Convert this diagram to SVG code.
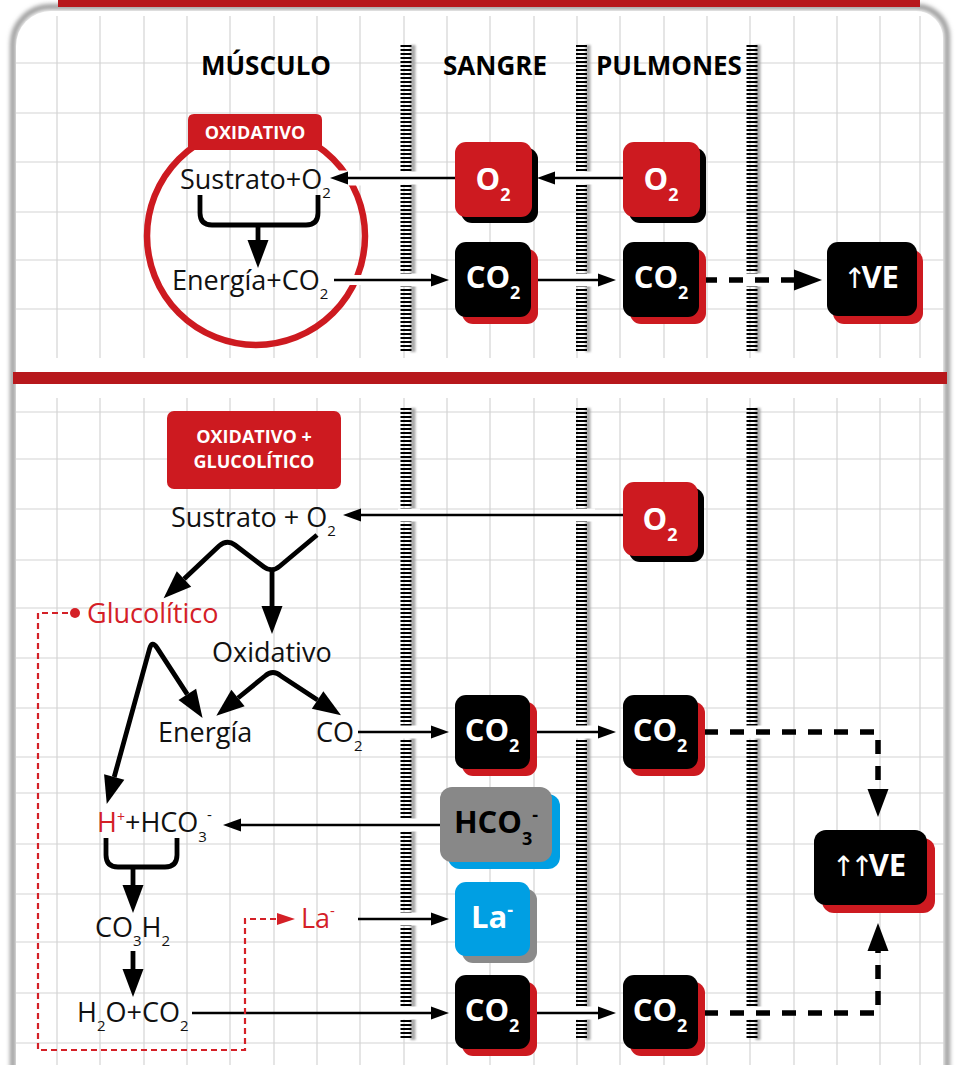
<svg xmlns="http://www.w3.org/2000/svg" width="956" height="1065" viewBox="0 0 956 1065">
<defs>
<style>
.txt{font-family:'Open Sans','Noto Sans','DejaVu Sans',sans-serif;font-size:27px;fill:#111}
.red{fill:#d42027}
.hd{font-family:'Open Sans','Noto Sans',sans-serif;font-weight:700;font-size:26px;fill:#000;text-anchor:middle}
.bt{font-family:'Open Sans','Noto Sans','DejaVu Sans',sans-serif;font-weight:700;font-size:31px;fill:#fff;text-anchor:middle}
.arr{font-family:'DejaVu Sans',sans-serif;font-weight:400;font-size:28px;letter-spacing:-5px}
.lb{font-family:'Open Sans','Noto Sans',sans-serif;font-weight:700;font-size:18px;fill:#fff;text-anchor:middle}
.sub{font-size:15px}
.bsub{font-size:18px}
.thin{fill:none;stroke:#000;stroke-width:2.6}
.thick{fill:none;stroke:#000;stroke-width:4.8;stroke-linejoin:round}
.dash{fill:none;stroke:#000;stroke-width:5.5;stroke-dasharray:14 12}
.grid{fill:none;stroke:#d4d4d4;stroke-width:1.2}
.tick{stroke:#000;stroke-width:11;stroke-dasharray:2 2}
.tshadow{stroke:#a8a8a8;stroke-width:5}
.gap{fill:#fff}
.rbox{fill:#cd1a20}
.kbox{fill:#000}
</style>
<filter id="fb2" filterUnits="userSpaceOnUse" x="0" y="0" width="956" height="1065"><feGaussianBlur stdDeviation="2"/></filter>
<filter id="fb1" filterUnits="userSpaceOnUse" x="0" y="0" width="956" height="1065"><feGaussianBlur stdDeviation="1.3"/></filter>
<marker id="a1" markerUnits="userSpaceOnUse" markerWidth="20" markerHeight="14" refX="0" refY="6.5" orient="auto" overflow="visible"><path d="M0,0 L18,6.5 L0,13 Z" fill="#000"/></marker>
<marker id="a2" markerUnits="userSpaceOnUse" markerWidth="30" markerHeight="22" refX="0" refY="10.5" orient="auto-start-reverse" overflow="visible"><path d="M0,0 L28,10.5 L0,21 Z" fill="#000"/></marker>
<marker id="a3" markerUnits="userSpaceOnUse" markerWidth="20" markerHeight="13" refX="0" refY="6" orient="auto" overflow="visible"><path d="M0,0 L18,6 L0,12 Z" fill="#d42027"/></marker>
</defs>

<rect x="0" y="0" width="956" height="1065" fill="#fff"/>
<g id="card">
<path d="M13,1075 V44 A37,37 0 0 1 50,7 H917 A30,30 0 0 1 947,37 V1075 Z" fill="#fff" stroke="#9c9c9c" stroke-width="6" filter="url(#fb2)"/>
<path d="M16,1075 V46 A35,35 0 0 1 51,11 H916 A27,27 0 0 1 943,38 V1075 Z" fill="#fff"/>
</g>

<g id="grid" class="grid">
<path d="M57 16V358M100 16V358M144 16V358M187 16V358M230 16V358M274 16V358M317 16V358M360 16V358M404 16V358M447 16V358M490 16V358M534 16V358M577 16V358M620 16V358M664 16V358M707 16V358M750 16V358M794 16V358M837 16V358M880 16V358M920 16V358"/>
<path d="M16 63H944M16 113H944M16 162H944M16 212H944M16 260H944M16 309H944"/>
<path d="M57 398V1065M100 398V1065M144 398V1065M187 398V1065M230 398V1065M274 398V1065M317 398V1065M360 398V1065M404 398V1065M447 398V1065M490 398V1065M534 398V1065M577 398V1065M620 398V1065M664 398V1065M707 398V1065M750 398V1065M794 398V1065M837 398V1065M880 398V1065M920 398V1065"/>
<path d="M16 412H944M16 459H944M16 509H944M16 560H944M16 608H944M16 658H944M16 708H944M16 757H944M16 793H944M16 844H944M16 894H944M16 942H944M16 993H944M16 1043H944"/>
</g>

<rect id="top-bar" x="58" y="0" width="862" height="7" fill="#b7181c"/>
<rect id="divider" x="13" y="372" width="934" height="12" fill="#b7181c"/>

<g id="membranes">
<g filter="url(#fb1)" class="tshadow">
<line x1="413" y1="45" x2="413" y2="352"/><line x1="588" y1="45" x2="588" y2="352"/><line x1="758" y1="45" x2="758" y2="352"/>
<line x1="413" y1="408" x2="413" y2="1040"/><line x1="588" y1="408" x2="588" y2="1040"/><line x1="758" y1="408" x2="758" y2="1040"/>
</g>
<g class="tick">
<line x1="406" y1="45" x2="406" y2="352"/><line x1="581.5" y1="45" x2="581.5" y2="352"/><line x1="752" y1="45" x2="752" y2="352"/>
<line x1="406" y1="408" x2="406" y2="1040"/><line x1="581.5" y1="408" x2="581.5" y2="1040"/><line x1="752" y1="408" x2="752" y2="1040"/>
</g>
<g class="gap">
<rect x="398" y="171.5" width="22" height="13"/><rect x="573" y="171.5" width="22" height="13"/>
<rect x="398" y="273.5" width="22" height="13"/><rect x="573" y="273.5" width="22" height="13"/><rect x="744" y="273.5" width="22" height="13"/>
<rect x="398" y="508.5" width="22" height="13"/><rect x="573" y="508.5" width="22" height="13"/>
<rect x="398" y="725.5" width="22" height="13"/><rect x="573" y="725.5" width="22" height="13"/><rect x="744" y="725.5" width="22" height="13"/>
<rect x="398" y="818.5" width="22" height="13"/>
<rect x="398" y="912.5" width="22" height="13"/>
<rect x="398" y="1006.5" width="22" height="13"/><rect x="573" y="1006.5" width="22" height="13"/><rect x="744" y="1006.5" width="22" height="13"/>
</g>
</g>

<g id="oxidativo-circle">
<circle cx="256" cy="236" r="109" fill="none" stroke="#cd1a20" stroke-width="6.5"/>
<path d="M336,178 H364" stroke="#fff" stroke-width="15"/>
<path d="M342,280 H372" stroke="#fff" stroke-width="10"/>
<path d="M188,150 V120 Q188,114 194,114 H316 Q322,114 322,120 V150 Z" fill="#cd1a20"/>
<text class="lb" x="255" y="138.5">OXIDATIVO</text>
</g>

<g id="connectors">
<path class="thin" d="M455,178 H348" marker-end="url(#a1)"/>
<path class="thin" d="M623,178 H555" marker-end="url(#a1)"/>
<path class="thin" d="M334,280 H431" marker-end="url(#a1)"/>
<path class="thin" d="M537,280 H598" marker-end="url(#a1)"/>
<path class="dash" d="M703,280 H794" marker-end="url(#a2)"/>
<path class="thick" d="M200,195 V213 Q200,225 212,225 H306 Q318,225 318,213 V195"/>
<path class="thick" d="M258,224 V240" marker-end="url(#a2)"/>

<path class="thin" d="M623,515 H361" marker-end="url(#a1)"/>
<path class="thick" d="M317,535 L280,566 Q272,573 264,567 L235,545 Q227,539 219,546 L184,579" marker-end="url(#a2)"/>
<path class="thick" d="M272,570 V606" marker-end="url(#a2)"/>
<path class="thick" d="M238,698 L265,676 Q273,669 281,676 L317.6,700" marker-start="url(#a2)" marker-end="url(#a2)"/>
<path class="thick" d="M114.2,777 L149.6,648.7 Q152,640 156.9,647.6 L187.3,694.4" marker-start="url(#a2)" marker-end="url(#a2)"/>
<path class="thin" d="M358,732 H431" marker-end="url(#a1)"/>
<path class="thin" d="M537,732 H598" marker-end="url(#a1)"/>
<path class="dash" d="M704,732 H878 V789" marker-end="url(#a2)"/>
<path class="thin" d="M440,825 H241" marker-end="url(#a1)"/>
<path class="thick" d="M106,838 V855 Q106,867 118,867 H165 Q177,867 177,855 V838"/>
<path class="thick" d="M133,866 V885" marker-end="url(#a2)"/>
<path class="thick" d="M133,951 V969" marker-end="url(#a2)"/>
<path class="thin" d="M358,919 H431" marker-end="url(#a1)"/>
<path class="thin" d="M192,1013 H431" marker-end="url(#a1)"/>
<path class="thin" d="M537,1013 H598" marker-end="url(#a1)"/>
<path class="dash" d="M704,1013 H878 V951" marker-end="url(#a2)"/>
<path d="M68,613 H38 V1050 H245 V919 H277" fill="none" stroke="#d42027" stroke-width="2.2" stroke-dasharray="6 4" marker-end="url(#a3)"/>
<circle cx="75" cy="613" r="5" fill="#d42027"/>
</g>

<g id="headers">
<text class="hd" x="266" y="75">MÚSCULO</text>
<text class="hd" x="495" y="75">SANGRE</text>
<text class="hd" x="669" y="75">PULMONES</text>
</g>

<g id="sustrato-top"><text class="txt" x="180" y="189">Sustrato+O<tspan class="sub" dy="9">2</tspan></text></g>
<g id="energia-top"><text class="txt" x="172" y="290">Energía+CO<tspan class="sub" dy="9">2</tspan></text></g>

<g id="o2-sangre-top">
<rect x="461" y="148" width="77" height="75" rx="11" class="kbox"/>
<rect x="455" y="142" width="77" height="75" rx="11" class="rbox"/>
<text class="bt" x="493" y="190">O<tspan class="bsub" dy="11">2</tspan></text>
</g>
<g id="o2-pulmones-top">
<rect x="629" y="148" width="77" height="75" rx="11" class="kbox"/>
<rect x="623" y="142" width="77" height="75" rx="11" class="rbox"/>
<text class="bt" x="661" y="190">O<tspan class="bsub" dy="11">2</tspan></text>
</g>
<g id="co2-sangre-top">
<rect x="462" y="249" width="76" height="75" rx="11" class="rbox"/>
<rect x="455" y="242" width="76" height="75" rx="11" class="kbox"/>
<text class="bt" x="493" y="288">CO<tspan class="bsub" dy="11">2</tspan></text>
</g>
<g id="co2-pulmones-top">
<rect x="630" y="249" width="76" height="75" rx="11" class="rbox"/>
<rect x="623" y="242" width="76" height="75" rx="11" class="kbox"/>
<text class="bt" x="661" y="288">CO<tspan class="bsub" dy="11">2</tspan></text>
</g>
<g id="ve-top">
<rect x="833" y="250" width="90" height="74" rx="11" class="rbox"/>
<rect x="827" y="242" width="90" height="74" rx="11" class="kbox"/>
<text class="bt" x="871" y="288"><tspan class="arr">↑</tspan>VE</text>
</g>

<g id="label-bottom">
<rect x="167" y="411" width="174" height="78" rx="7" class="rbox"/>
<text class="lb" x="254" y="443" font-size="19">OXIDATIVO +</text>
<text class="lb" x="254" y="468" font-size="19">GLUCOLÍTICO</text>
</g>

<g id="sustrato-bottom"><text class="txt" x="171" y="527">Sustrato + O<tspan class="sub" dy="9">2</tspan></text></g>
<g id="glucolitico"><text class="txt red" x="87" y="623" font-size="28">Glucolítico</text></g>
<g id="oxidativo"><text class="txt" x="212" y="662">Oxidativo</text></g>
<g id="energia"><text class="txt" x="158" y="742">Energía</text></g>
<g id="co2-musculo"><text class="txt" x="316" y="742">CO<tspan class="sub" dy="9">2</tspan></text></g>
<g id="h-hco3"><text class="txt" x="97" y="832"><tspan fill="#d42027">H</tspan><tspan fill="#d42027" font-size="14" dy="-10">+</tspan><tspan dy="10">+HCO</tspan><tspan class="sub" dy="10">3</tspan><tspan class="sub" dy="-22">-</tspan></text></g>
<g id="co3h2"><text class="txt" x="95" y="937">CO<tspan class="sub" dy="9">3</tspan><tspan dy="-9">H</tspan><tspan class="sub" dy="9">2</tspan></text></g>
<g id="h2o-co2"><text class="txt" x="77" y="1022">H<tspan class="sub" dy="9">2</tspan><tspan dy="-9">O+CO</tspan><tspan class="sub" dy="9">2</tspan></text></g>
<g id="la-musculo"><text class="txt red" x="301" y="928">La<tspan class="sub" dy="-12">-</tspan></text></g>

<g id="o2-pulmones-bottom">
<rect x="629" y="488" width="75" height="74" rx="11" class="kbox"/>
<rect x="623" y="482" width="75" height="74" rx="11" class="rbox"/>
<text class="bt" x="660" y="530">O<tspan class="bsub" dy="11">2</tspan></text>
</g>
<g id="co2-sangre-mid">
<rect x="462" y="702" width="75" height="74" rx="11" class="rbox"/>
<rect x="455" y="695" width="75" height="74" rx="11" class="kbox"/>
<text class="bt" x="492" y="741">CO<tspan class="bsub" dy="11">2</tspan></text>
</g>
<g id="co2-pulmones-mid">
<rect x="630" y="702" width="75" height="74" rx="11" class="rbox"/>
<rect x="623" y="695" width="75" height="74" rx="11" class="kbox"/>
<text class="bt" x="660" y="741">CO<tspan class="bsub" dy="11">2</tspan></text>
</g>
<g id="hco3-sangre">
<rect x="448" y="794" width="112" height="75" rx="12" fill="#009fe3"/>
<rect x="440" y="787" width="112" height="75" rx="12" fill="#888888"/>
<text class="bt" x="496" y="833" style="fill:#000">HCO<tspan class="bsub" dy="12">3</tspan><tspan class="bsub" dy="-24">-</tspan></text>
</g>
<g id="la-sangre">
<rect x="462" y="889" width="75" height="74" rx="11" fill="#8a8a8a"/>
<rect x="455" y="882" width="75" height="74" rx="11" fill="#009fe3"/>
<text class="bt" x="492" y="928">La<tspan class="bsub" dy="-12">-</tspan></text>
</g>
<g id="co2-sangre-bottom">
<rect x="462" y="982" width="75" height="74" rx="11" class="rbox"/>
<rect x="455" y="975" width="75" height="74" rx="11" class="kbox"/>
<text class="bt" x="492" y="1021">CO<tspan class="bsub" dy="11">2</tspan></text>
</g>
<g id="co2-pulmones-bottom">
<rect x="630" y="982" width="75" height="74" rx="11" class="rbox"/>
<rect x="623" y="975" width="75" height="74" rx="11" class="kbox"/>
<text class="bt" x="660" y="1021">CO<tspan class="bsub" dy="11">2</tspan></text>
</g>
<g id="ve-bottom">
<rect x="822" y="838" width="113" height="75" rx="12" class="rbox"/>
<rect x="814" y="830" width="113" height="75" rx="12" class="kbox"/>
<text class="bt" x="869" y="876"><tspan class="arr">↑↑</tspan>VE</text>
</g>
</svg>
